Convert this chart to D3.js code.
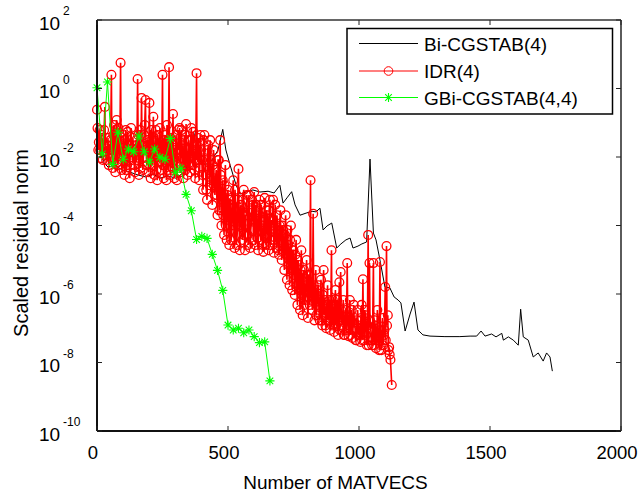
<!DOCTYPE html>
<html><head><meta charset="utf-8">
<script src="https://cdn.jsdelivr.net/npm/d3@7/dist/d3.min.js"></script>
<style>body{margin:0;background:#fff}svg text{font-family:"Liberation Sans",Arial,sans-serif;fill:#000}</style>
</head><body><svg id="c" width="638" height="497"></svg>
<script>
const xTicks = [0, 500, 1000, 1500, 2000];
const yTickExps = [2, 0, -2, -4, -6, -8, -10];
const seriesNames = ["Bi-CGSTAB(4)", "IDR(4)", "GBi-CGSTAB(4,4)"];
const xLabel = "Number of MATVECS";
const yLabel = "Scaled residual norm";

const bicgMatvecs = [0,11,27,42,69,95,126,156,187,214,240,271,302,332,355,378,389,412,439,462,480,492,508,531,546,569,595,622,653,676,698,710,725,743,756,775,798,821,836,851,863,878,896,915,931,950,966,977,996,1011,1029,1042,1055,1065,1080,1099,1118,1134,1149,1160,1176,1195,1210,1225,1244,1271,1328,1385,1424,1449,1466,1481,1506,1523,1545,1551,1570,1589,1608,1617,1627,1646,1665,1684,1703,1716,1729,1738];
const bicgRes = [1.2e-1,1.6e-2,6.7e-3,5.1e-3,5.8e-3,4.2e-3,3.6e-3,3.0e-3,2.6e-3,3.2e-3,
2.4e-3,2.8e-3,2.4e-3,3.6e-3,8.2e-3,7.0e-2,8.2e-3,5.8e-3,8.2e-3,1.6e-2,
6.4e-2,1.6e-2,5.8e-3,1.5e-3,8.3e-4,9.5e-4,1.09e-3,9.5e-4,1.0e-3,8.9e-4,
1.5e-3,4.5e-4,6.4e-4,9.7e-4,4.0e-4,2.0e-4,2.3e-4,2.6e-4,2.5e-4,3.2e-4,
7.4e-5,9.7e-5,1.18e-4,2.2e-5,2.9e-5,3.8e-5,4.3e-5,2.2e-5,2.5e-5,2.9e-5,
3.3e-5,8.7e-3,6.0e-5,3.8e-5,9.8e-6,1.6e-6,1.5e-6,8.2e-7,6.7e-7,5.5e-7,
8.3e-8,2.6e-7,5.8e-7,8.9e-8,6.4e-8,5.9e-8,5.7e-8,5.7e-8,5.9e-8,5.9e-8,
8.3e-8,5.9e-8,6.8e-8,5.6e-8,7.1e-8,4.5e-8,5.6e-8,4.5e-8,3.2e-8,3.6e-7,
5.6e-8,4.5e-8,1.45e-8,1.9e-8,1.1e-8,1.9e-8,1.45e-8,5.6e-9];

// IDR(4): residuals at MATVEC counts 0,5,10,...
const idrMatvecs = d3.range(0, 1126, 5);
const idrRes = [
2.4e-1,1.6e-2,6.1e-2,9.3e-3,3.1e-2,1.4e-2,2.9e-1,8.2e-3,2.2e-2,5.8e-3,
1.6e-2,2.5,4.8e-3,8.6e-2,3.6e-3,1.2e-1,5.8e-3,3.1e-2,5.6,4.2e-3,
4.4e-2,3.0e-3,6.1e-2,5.8e-3,2.2e-2,2.4e-3,7.0e-2,8.2e-3,1.6e-2,3.6e-3,
3.1e-2,1.9,3.0e-3,6.1e-2,5.3e-1,4.2e-3,4.4e-2,4.6e-1,5.8e-3,2.2e-2,
3.8e-1,2.4e-3,3.1e-2,1.5e-1,3.0e-3,6.1e-2,2.1e-3,1.6e-2,7.0e-2,4.2e-3,
2.5,2.4e-3,4.4e-2,2.1e-3,2.2e-2,4.2,3.0e-3,3.1e-2,1.8e-1,2.4e-3,
1.6e-2,2.1e-3,6.1e-2,7.0e-2,3.6e-3,2.2e-2,2.4e-3,4.4e-2,9.2e-2,3.0e-3,
3.1e-2,3.6e-3,7.0e-2,5.8e-3,2.2e-2,2.4e-3,2.8,1.6e-2,2.1e-3,4.4e-2,
8.2e-3,1.1e-3,4.4e-2,3.0e-3,5.6e-4,2.2e-2,1.5e-3,8.2e-3,4.0e-4,1.6e-2,
7.8e-4,4.2e-3,2.0e-4,8.2e-3,3.1e-2,1.0e-4,2.1e-3,5.3e-5,5.8e-3,3.8e-5,
1.1e-3,2.7e-5,5.6e-4,7.4e-5,2.1e-3,2.2e-5,2.8e-4,5.3e-5,4.5e-3,1.9e-5,
4.0e-4,3.8e-5,1.1e-3,1.9e-5,2.0e-4,5.3e-5,7.8e-4,2.2e-5,1.45e-4,4.0e-4,
9.5e-4,2.7e-5,2.8e-4,1.9e-5,5.6e-4,3.8e-5,1.0e-4,1.7e-5,6.4e-4,2.7e-5,
2.0e-4,1.9e-5,5.6e-4,3.8e-5,1.0e-4,1.6e-5,4.0e-4,2.2e-5,7.4e-5,1.4e-5,
2.8e-4,9.8e-6,7.4e-5,5.0e-6,2.0e-4,2.6e-6,2.7e-5,1.8e-6,1.0e-4,1.3e-6,
1.9e-5,9.4e-7,3.8e-5,4.8e-7,7.0e-6,3.4e-7,1.9e-5,2.4e-7,5.0e-6,6.7e-7,
9.8e-6,2.0e-7,3.6e-6,2.1e-3,6.7e-7,2.2e-4,1.7e-7,5.0e-6,4.8e-7,1.8e-6,
1.7e-7,2.6e-6,1.2e-7,5.0e-6,6.7e-7,1.0e-7,1.8e-6,3.4e-7,8.9e-8,1.9e-5,
6.7e-7,7.8e-8,1.3e-6,2.4e-7,6.4e-8,2.2e-6,4.4e-6,1.2e-7,6.7e-7,6.4e-8,
3.4e-7,8.0e-6,5.9e-8,6.7e-7,1.7e-7,5.2e-8,4.8e-7,1.0e-7,4.5e-8,3.4e-7,
1.2e-7,4.0e-8,4.8e-7,2.7e-6,4.5e-8,2.4e-7,3.2e-8,5.3e-5,8.0e-6,8.9e-8,
3.2e-8,8.0e-6,1.7e-7,2.6e-8,3.4e-7,4.5e-8,8.6e-6,2.3e-8,2.0e-7,6.4e-8,
1.6e-6,2.5e-5,2.4e-7,2.8e-8,1.2e-8,2.2e-9];

// IDR(4): intermediate residuals at MATVEC counts 2,7,12,...
const idrMidMatvecs = d3.range(2, 1120, 5);
const idrMidRes = [
7.0e-2,2.7e-2,1.6e-2,4.4e-2,8.2e-3,6.1e-2,1.8e-2,1.1e-2,3.6e-2,1.6e-2,
3.1e-2,9.3e-3,4.4e-2,1.6e-2,6.1e-2,7.1e-3,7.0e-2,1.1e-2,2.2e-2,8.2e-3,
1.1e-2,3.1e-2,4.2e-3,5.4e-2,8.2e-3,1.6e-2,1.8e-2,3.6e-2,5.8e-3,2.2e-2,
8.2e-3,4.4e-2,1.6e-2,4.8e-3,2.2e-2,9.3e-3,8.6e-2,1.6e-2,3.1e-2,3.6e-3,
1.6e-2,6.1e-2,5.8e-3,3.1e-2,1.1e-2,4.2e-3,4.4e-2,7.1e-3,2.2e-2,1.1e-2,
5.8e-3,3.1e-2,8.2e-3,8.6e-2,4.2e-3,1.6e-2,3.6e-2,4.8e-3,2.2e-2,8.2e-3,
4.4e-2,5.8e-3,1.6e-2,3.6e-3,6.1e-2,9.3e-3,3.1e-2,4.2e-3,1.6e-2,8.2e-3,
5.8e-3,3.1e-2,1.1e-2,5.4e-2,4.2e-3,1.6e-2,8.2e-3,3.6e-2,4.8e-3,1.6e-2,
3.0e-3,3.1e-2,8.2e-3,1.1e-3,1.6e-2,4.2e-3,3.1e-2,2.1e-3,5.8e-3,1.5e-3,
2.1e-3,7.8e-4,8.2e-3,2.8e-4,3.0e-3,5.6e-4,2.0e-4,1.5e-3,1.0e-4,7.8e-4,
1.45e-4,5.6e-4,3.8e-5,4.0e-4,1.0e-4,1.1e-3,2.7e-5,5.6e-4,1.0e-4,2.8e-4,
1.0e-4,5.6e-4,5.3e-5,2.0e-4,7.8e-4,2.7e-5,2.8e-4,7.4e-5,5.6e-4,3.8e-5,
1.45e-4,4.0e-4,4.3e-5,2.0e-4,7.4e-5,4.0e-4,2.7e-5,1.45e-4,5.3e-5,2.8e-4,
5.3e-5,2.8e-4,2.7e-5,1.45e-4,5.6e-4,3.8e-5,7.4e-5,2.0e-4,1.9e-5,1.0e-4,
3.8e-5,1.0e-4,1.9e-5,5.3e-5,1.4e-5,7.4e-5,7.0e-6,3.8e-5,5.0e-6,1.9e-5,
3.6e-6,1.4e-5,1.8e-6,9.8e-6,1.3e-6,5.0e-6,9.4e-7,3.6e-6,4.8e-7,1.8e-6,
1.3e-6,3.6e-6,4.8e-7,9.4e-7,3.4e-7,1.8e-6,6.7e-7,2.4e-7,1.3e-6,3.4e-7,
6.7e-7,1.7e-7,9.4e-7,2.4e-7,1.2e-7,4.8e-7,1.7e-7,6.7e-7,2.4e-7,1.2e-7,
1.7e-7,4.8e-7,1.2e-7,6.7e-7,2.4e-7,8.9e-8,3.4e-7,1.7e-7,6.4e-8,2.4e-7,
8.9e-8,2.4e-7,1.2e-7,6.4e-8,3.4e-7,8.9e-8,1.5e-7,4.5e-8,1.7e-7,6.4e-8,
6.4e-8,1.7e-7,4.5e-8,1.2e-7,3.4e-7,6.4e-8,1.2e-7,3.2e-8,1.7e-7,4.5e-8,
8.9e-8,3.2e-8,1.2e-7,4.5e-8,6.4e-8,2.3e-8,8.9e-8,4.5e-8,3.2e-8,8.9e-8,
4.5e-8,1.2e-7,2.3e-8,1.7e-8];

const gbiMatvecs = [0,20,40,60,80,100,120,140,160,180,200,220,240,260,280,300,320,340,360,380,400,420,440,460,480,500,520,540,560,580,600,620,640,660];
const gbiRes = [1.05,1.22e-2,1.55,6.1e-3,5.3e-2,8.6e-3,1.71e-2,1.43e-2,4.1e-2,1.43e-2,
7.0e-3,1.71e-2,9.8e-3,8.6e-3,3.5e-2,3.6e-3,4.7e-3,8.1e-4,2.7e-4,3.9e-5,
4.8e-5,4.2e-5,1.44e-5,4.9e-6,1.28e-6,1.24e-7,8.9e-8,1.0e-7,7.4e-8,8.9e-8,
5.7e-8,3.8e-8,4.0e-8,2.9e-9];

const colors = ["#000000", "#ff0000", "#00ff00"];

const svg = d3.select("#c");
const L = 97, R = 621, T = 20, B = 431;
const x = d3.scaleLinear().domain([0, 2000]).range([L, R]);
const y = d3.scaleLog().domain([1e-10, 1e2]).range([B, T]);

const zip = (xs, ys) => xs.map((v, i) => [v, ys[i]]).filter(d => d[1] !== undefined);
const line = d3.line().x(d => x(d[0])).y(d => y(d[1]));

function asterisk(g, cx, cy, r, color) {
  const a = r * 0.72;
  g.append("path")
    .attr("d", `M${cx-r},${cy}L${cx+r},${cy}M${cx},${cy-r}L${cx},${cy+r}M${cx-a},${cy-a}L${cx+a},${cy+a}M${cx-a},${cy+a}L${cx+a},${cy-a}`)
    .attr("stroke", color).attr("stroke-width", 1.1).attr("fill", "none");
}

// Bi-CGSTAB(4)
const bicg = zip(bicgMatvecs, bicgRes);
svg.append("path").datum(bicg).attr("d", line).attr("fill", "none")
  .attr("stroke", colors[0]).attr("stroke-width", 1);

// IDR(4)
const idr = zip(idrMatvecs, idrRes).concat(zip(idrMidMatvecs, idrMidRes))
  .sort((a, b) => a[0] - b[0]);
svg.append("path").datum(idr).attr("d", line).attr("fill", "none")
  .attr("stroke", colors[1]).attr("stroke-width", 1.6);
svg.append("g").selectAll("circle").data(idr).join("circle")
  .attr("cx", d => x(d[0])).attr("cy", d => y(d[1])).attr("r", 4.4)
  .attr("fill", "none").attr("stroke", colors[1]).attr("stroke-width", 1.3);

// GBi-CGSTAB(4,4)
const gbi = zip(gbiMatvecs, gbiRes);
svg.append("path").datum(gbi).attr("d", line).attr("fill", "none")
  .attr("stroke", colors[2]).attr("stroke-width", 1);
const gm = svg.append("g");
gbi.forEach(d => asterisk(gm, x(d[0]), y(d[1]), 4.6, colors[2]));

// axes box
const ax = svg.append("g");
ax.append("line").attr("x1", L).attr("x2", R).attr("y1", T).attr("y2", T).attr("stroke", "#333").attr("stroke-width", 1.3);
ax.append("line").attr("x1", L).attr("x2", R).attr("y1", B).attr("y2", B).attr("stroke", "#111").attr("stroke-width", 2);
ax.append("line").attr("x1", L).attr("x2", L).attr("y1", T).attr("y2", B).attr("stroke", "#111").attr("stroke-width", 2);
ax.append("line").attr("x1", R).attr("x2", R).attr("y1", T).attr("y2", B).attr("stroke", "#333").attr("stroke-width", 1.6);

const tl = 5;
xTicks.forEach(t => {
  const px = x(t);
  ax.append("line").attr("x1", px).attr("x2", px).attr("y1", B).attr("y2", B - tl).attr("stroke", "#222");
  ax.append("line").attr("x1", px).attr("x2", px).attr("y1", T).attr("y2", T + tl).attr("stroke", "#222");
  ax.append("text").attr("x", px - 4).attr("y", 459).attr("text-anchor", "middle")
    .attr("font-size", 18.5).text(t);
});
yTickExps.forEach(e => {
  const py = y(Math.pow(10, e));
  ax.append("line").attr("x1", L).attr("x2", L + tl).attr("y1", py).attr("y2", py).attr("stroke", "#222");
  ax.append("line").attr("x1", R).attr("x2", R - tl).attr("y1", py).attr("y2", py).attr("stroke", "#222");
  const t = ax.append("text").attr("x", 39).attr("y", py + 9.5).attr("font-size", 19);
  t.append("tspan").text("10");
  t.append("tspan").attr("x", 63).attr("y", py - 5).attr("font-size", 12).text(e);
});

svg.append("text").attr("x", 335.5).attr("y", 489).attr("text-anchor", "middle")
  .attr("font-size", 19).text(xLabel);
svg.append("text").attr("transform", "translate(28,243) rotate(-90)").attr("text-anchor", "middle")
  .attr("font-size", 20).text(yLabel);

// legend
const lg = svg.append("g");
lg.append("rect").attr("x", 347).attr("y", 28.5).attr("width", 265.5).attr("height", 85.5)
  .attr("fill", "#fff").attr("stroke", "#000").attr("stroke-width", 1.5);
const rowsY = [43.5, 71, 97.5];
seriesNames.forEach((name, i) => {
  const yy = rowsY[i];
  lg.append("line").attr("x1", 359).attr("x2", 418).attr("y1", yy).attr("y2", yy)
    .attr("stroke", colors[i]).attr("stroke-width", i === 1 ? 1.2 : 1);
  if (i === 1) lg.append("circle").attr("cx", 388.5).attr("cy", yy).attr("r", 4.3)
    .attr("fill", "none").attr("stroke", colors[1]);
  if (i === 2) asterisk(lg, 388.5, yy, 4.6, colors[2]);
  lg.append("text").attr("x", 424).attr("y", yy + 7).attr("font-size", 19).text(name);
});
</script>
</body></html>
